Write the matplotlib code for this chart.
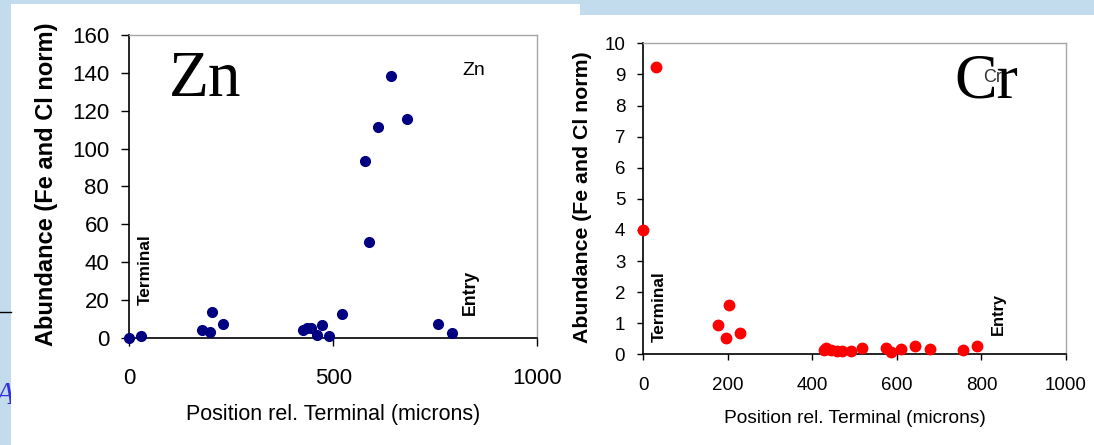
import matplotlib
matplotlib.use("Agg")

import matplotlib.pyplot as plt
from matplotlib.patches import Rectangle

plt.rcParams['font.family'] = ['Liberation Sans', 'DejaVu Sans']

# Zn data (positions in microns, abundance normalised to Fe and Cl)
zn_pos = [0, 28, 178, 198, 204, 231, 426, 436, 446, 461, 472, 490, 522,
          579, 587, 611, 642, 680, 758, 791]
zn_abund = [0, 0.7, 4, 3, 13.5, 7.4, 4, 5.3, 5.3, 1.2, 6.5, 1, 12.7,
            93.6, 50.6, 111.4, 138.2, 115.4, 7.4, 2.6]

# Cr data
cr_pos = [0, 30, 177, 195, 203, 229, 428, 433, 445, 459, 469, 491, 518,
          574, 586, 610, 642, 679, 757, 790]
cr_abund = [4.0, 9.23, 0.94, 0.52, 1.57, 0.70, 0.14, 0.21, 0.14, 0.11, 0.11,
            0.10, 0.19, 0.19, 0.08, 0.16, 0.26, 0.16, 0.14, 0.27]

zn_yticks = list(range(0, 161, 20))
zn_xticks = [0, 500, 1000]
cr_yticks = list(range(0, 11))
cr_xticks = list(range(0, 1001, 200))

ylabel = "Abundance (Fe and Cl norm)"
xlabel = "Position rel. Terminal (microns)"

W, H = 1094, 445
fig = plt.figure(figsize=(W / 100, H / 100), dpi=100)
fig.patch.set_facecolor("#c2dcee")

# slide background (pixel coordinates)
bg = fig.add_axes([0, 0, 1, 1])
bg.set_xlim(0, W)
bg.set_ylim(H, 0)
bg.axis("off")
bg.add_patch(Rectangle((11, 4), 569, H - 4, color="white", lw=0))
bg.add_patch(Rectangle((578, 15), W - 578, H - 15, color="white", lw=0))
bg.plot([0, 11], [312, 312], color="black", lw=1)
bg.text(-4, 404, "A", color="#3030e0", fontsize=22, style="italic",
        family="Liberation Serif", ha="left", va="baseline", clip_on=True)
bg.add_patch(Rectangle((11, 360), 20, 60, color="white", lw=0, zorder=3))

gray = "#a6a6a6"


def style_axes(ax, lw_black=1.2):
    ax.set_facecolor("white")
    ax.spines["left"].set_color("black")
    ax.spines["bottom"].set_color("black")
    ax.spines["left"].set_linewidth(lw_black)
    ax.spines["bottom"].set_linewidth(lw_black)
    ax.spines["top"].set_color(gray)
    ax.spines["right"].set_color(gray)
    ax.spines["top"].set_linewidth(1.0)
    ax.spines["right"].set_linewidth(1.0)


# ---- Zn panel ----
ax1 = fig.add_axes([129.3 / W, 1 - 337.7 / H, 407.7 / W, 302.7 / H])
style_axes(ax1)
ax1.plot(zn_pos, zn_abund, "o", color="#000080", markersize=7, clip_on=False, zorder=5)
ax1.set_xlim(0, 1000)
ax1.set_ylim(0, 160)
ax1.set_xticks(zn_xticks)
ax1.set_yticks(zn_yticks)
ax1.tick_params(axis="both", direction="out", labelsize=16, length=5.5, width=1)
ax1.tick_params(axis="y", pad=9)
ax1.tick_params(axis="x", pad=16)
ax1.set_ylabel(ylabel, fontsize=17, fontweight="bold", ha="center", va="center")
ax1.yaxis.set_label_coords(-0.204, 0.507)
ax1.set_xlabel(xlabel, fontsize=15.5, ha="center", va="center")
ax1.xaxis.set_label_coords(0.5, -0.255)

ax1.text(186, 127.6, "Zn", family="Liberation Serif", fontsize=47,
         ha="center", va="baseline")
ax1.text(816, 138.7, "Zn", fontsize=14, ha="left", va="baseline")
ax1.text(38.5, 17.3, "Terminal", fontsize=12.4, fontweight="bold",
         rotation=90, ha="center", va="bottom")
ax1.text(835.7, 12, "Entry", fontsize=12.7, fontweight="bold",
         rotation=90, ha="center", va="bottom")

# ---- Cr panel ----
ax2 = fig.add_axes([643.3 / W, 1 - 354.3 / H, 422.7 / W, 311 / H])
style_axes(ax2)
ax2.plot(cr_pos, cr_abund, "o", color="#ff0000", markersize=7.5, clip_on=False, zorder=5)
ax2.set_xlim(0, 1000)
ax2.set_ylim(0, 10)
ax2.set_xticks(cr_xticks)
ax2.set_yticks(cr_yticks)
ax2.tick_params(axis="both", direction="out", labelsize=13.5, length=4.5, width=1)
ax2.tick_params(axis="y", pad=8.5)
ax2.tick_params(axis="x", pad=12)
ax2.set_ylabel(ylabel, fontsize=15.3, fontweight="bold", ha="center", va="center")
ax2.yaxis.set_label_coords(-0.145, 0.506)
ax2.set_xlabel(xlabel, fontsize=13.8, ha="center", va="center")
ax2.xaxis.set_label_coords(0.5, -0.208)

ax2.text(803.6, 8.76, "Cr", fontsize=13, ha="left", va="baseline", color="#333333")
ax2.text(737, 8.27, "Cr", family="Liberation Serif", fontsize=46,
         ha="left", va="baseline")
ax2.text(37, 0.4, "Terminal", fontsize=12.4, fontweight="bold",
         rotation=90, ha="center", va="bottom")
ax2.text(839, 0.62, "Entry", fontsize=11.8, fontweight="bold",
         rotation=90, ha="center", va="bottom")

fig.savefig("out.png", dpi=100, facecolor=fig.get_facecolor())
